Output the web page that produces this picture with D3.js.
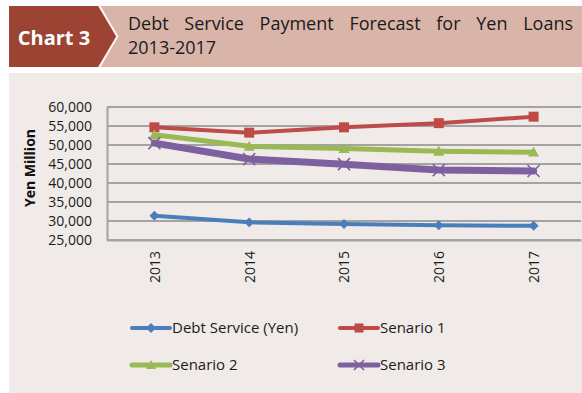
<!DOCTYPE html>
<html>
<head>
<meta charset="utf-8">
<script src="https://cdn.jsdelivr.net/npm/d3@7"></script>
<style>
  html, body { margin: 0; padding: 0; background: #ffffff; }
  svg { display: block; }
  text { font-family: "Open Sans", "Noto Sans", sans-serif; }
</style>
</head>
<body>
<svg id="chart" width="582" height="393"></svg>
<script>
// Debt service forecast, Yen million
const years = ["2013", "2014", "2015", "2016", "2017"];
const debtService = [31400, 29650, 29200, 28850, 28750];
const senario1 = [54650, 53250, 54650, 55750, 57450];
const senario2 = [52700, 49650, 49050, 48350, 48100];
const senario3 = [50500, 46300, 44950, 43400, 43150];
const yTicks = [25000, 30000, 35000, 40000, 45000, 50000, 55000, 60000];
const seriesNames = ["Debt Service (Yen)", "Senario 1", "Senario 2", "Senario 3"];

const series = [
  { name: seriesNames[0], values: debtService, color: "#4a7ebb", width: 4, marker: "diamond" },
  { name: seriesNames[1], values: senario1, color: "#be4b48", width: 4, marker: "square" },
  { name: seriesNames[2], values: senario2, color: "#98b954", width: 5, marker: "triangle" },
  { name: seriesNames[3], values: senario3, color: "#7d60a0", width: 7, marker: "cross" }
];

const svg = d3.select("#chart");

// ---- header banner ----
svg.append("rect").attr("x", 9).attr("y", 6).attr("width", 573).attr("height", 61).attr("fill", "#d9b5a9");
svg.append("path")
  .attr("d", "M9,6 L98,6 L116,36.5 L98,67 L9,67 Z")
  .attr("fill", "#9c4333");
svg.append("path")
  .attr("d", "M99.5,6 L117.5,36.5 L99.5,67")
  .attr("fill", "none").attr("stroke", "#ffffff").attr("stroke-width", 1.5);
svg.append("text").attr("x", 54).attr("y", 45).attr("text-anchor", "middle")
  .attr("font-size", 20).attr("font-weight", "bold").attr("fill", "#ffffff").text("Chart 3");

// justified first title line
const titleWords = "Debt Service Payment Forecast for Yen Loans".split(" ");
const tLeft = 128, tRight = 573;
const wordNodes = titleWords.map(w => svg.append("text").attr("y", 30).attr("font-size", 18).attr("fill", "#1a1a1a").text(w));
const widths = wordNodes.map(n => n.node().getComputedTextLength());
const gap = (tRight - tLeft - d3.sum(widths)) / (titleWords.length - 1);
let cx = tLeft;
wordNodes.forEach((n, i) => { n.attr("x", cx); cx += widths[i] + gap; });
svg.append("text").attr("x", tLeft).attr("y", 54).attr("font-size", 18).attr("fill", "#1a1a1a").text("2013-2017");

// ---- chart panel ----
svg.append("rect").attr("x", 9).attr("y", 73).attr("width", 573).attr("height", 320).attr("fill", "#f0ebe8");

const plot = { left: 107, right: 581, top: 107, bottom: 240 };
const x = d3.scalePoint().domain(years).range([plot.left, plot.right]).padding(0.5);
const y = d3.scaleLinear().domain([25000, 60000]).range([plot.bottom, plot.top]);

// gridlines
svg.append("g").selectAll("line").data(yTicks).join("line")
  .attr("x1", plot.left).attr("x2", plot.right)
  .attr("y1", d => y(d)).attr("y2", d => y(d))
  .attr("stroke", "#a3a3a3").attr("stroke-width", 2);

// y axis
const yAxis = svg.append("g").attr("transform", `translate(${plot.left},0)`)
  .call(d3.axisLeft(y).tickValues(yTicks).tickFormat(d3.format(",")).tickSize(0).tickPadding(15));
yAxis.select(".domain").attr("stroke", "#a3a3a3").attr("stroke-width", 2);
yAxis.selectAll("text").attr("font-size", 14).attr("fill", "#1a1a1a")
  .attr("font-family", "'Open Sans', sans-serif");

// x axis
const xAxis = svg.append("g").attr("transform", `translate(0,${plot.bottom})`)
  .call(d3.axisBottom(x).tickSize(0).tickPadding(0));
xAxis.select(".domain").attr("stroke", "#a3a3a3").attr("stroke-width", 2);
xAxis.selectAll("text")
  .attr("font-size", 14).attr("fill", "#1a1a1a").attr("font-family", "'Open Sans', sans-serif")
  .attr("transform", "rotate(-90)")
  .attr("text-anchor", "middle")
  .attr("x", -27).attr("y", 0).attr("dy", "0.35em");

// y axis title
svg.append("text").attr("transform", "translate(30,168) rotate(-90)")
  .attr("text-anchor", "middle").attr("dy", "0.35em")
  .attr("font-size", 14).attr("font-weight", "bold").attr("fill", "#111").text("Yen Million");

// ---- markers ----
function drawMarker(g, type, color, size) {
  if (type === "diamond") {
    const s = size * 0.55;
    g.append("path").attr("d", `M0,${-s} L${s},0 L0,${s} L${-s},0 Z`).attr("fill", color);
  } else if (type === "square") {
    const s = size * 0.5;
    g.append("rect").attr("x", -s).attr("y", -s).attr("width", 2 * s).attr("height", 2 * s).attr("fill", color);
  } else if (type === "triangle") {
    const s = size * 0.55;
    g.append("path").attr("d", `M0,${-s} L${s},${s * 0.8} L${-s},${s * 0.8} Z`).attr("fill", color);
  } else if (type === "cross") {
    const s = size * 0.5;
    g.append("path").attr("d", `M${-s},${-s} L${s},${s} M${-s},${s} L${s},${-s}`)
      .attr("stroke", color).attr("stroke-width", 1.6).attr("fill", "none");
  }
}

const line = d3.line().x((d, i) => x(years[i])).y(d => y(d));
const marks = svg.append("g");
series.forEach(s => {
  marks.append("path").datum(s.values).attr("d", line)
    .attr("fill", "none").attr("stroke", s.color).attr("stroke-width", s.width)
    .attr("stroke-linejoin", "round").attr("stroke-linecap", "round");
  s.values.forEach((v, i) => {
    const g = marks.append("g").attr("transform", `translate(${x(years[i])},${y(v)})`);
    drawMarker(g, s.marker, s.color, s.marker === "cross" ? 12 : (s.marker === "diamond" ? 9 : 10));
  });
});

// ---- legend ----
const legendPos = [[132, 328], [340, 328], [132, 365], [340, 365]];
series.forEach((s, i) => {
  const [lx, ly] = legendPos[i];
  const g = svg.append("g").attr("transform", `translate(${lx},${ly})`);
  g.append("line").attr("x1", 0).attr("x2", 38).attr("y1", 0).attr("y2", 0)
    .attr("stroke", s.color).attr("stroke-width", Math.min(s.width, 5)).attr("stroke-linecap", "round");
  const m = g.append("g").attr("transform", "translate(19,0)");
  drawMarker(m, s.marker, s.color, s.marker === "cross" ? 10 : 9);
  g.append("text").attr("x", 40).attr("y", 0).attr("dy", "0.35em")
    .attr("font-size", 15).attr("fill", "#1a1a1a").text(s.name);
});
</script>
</body>
</html>
